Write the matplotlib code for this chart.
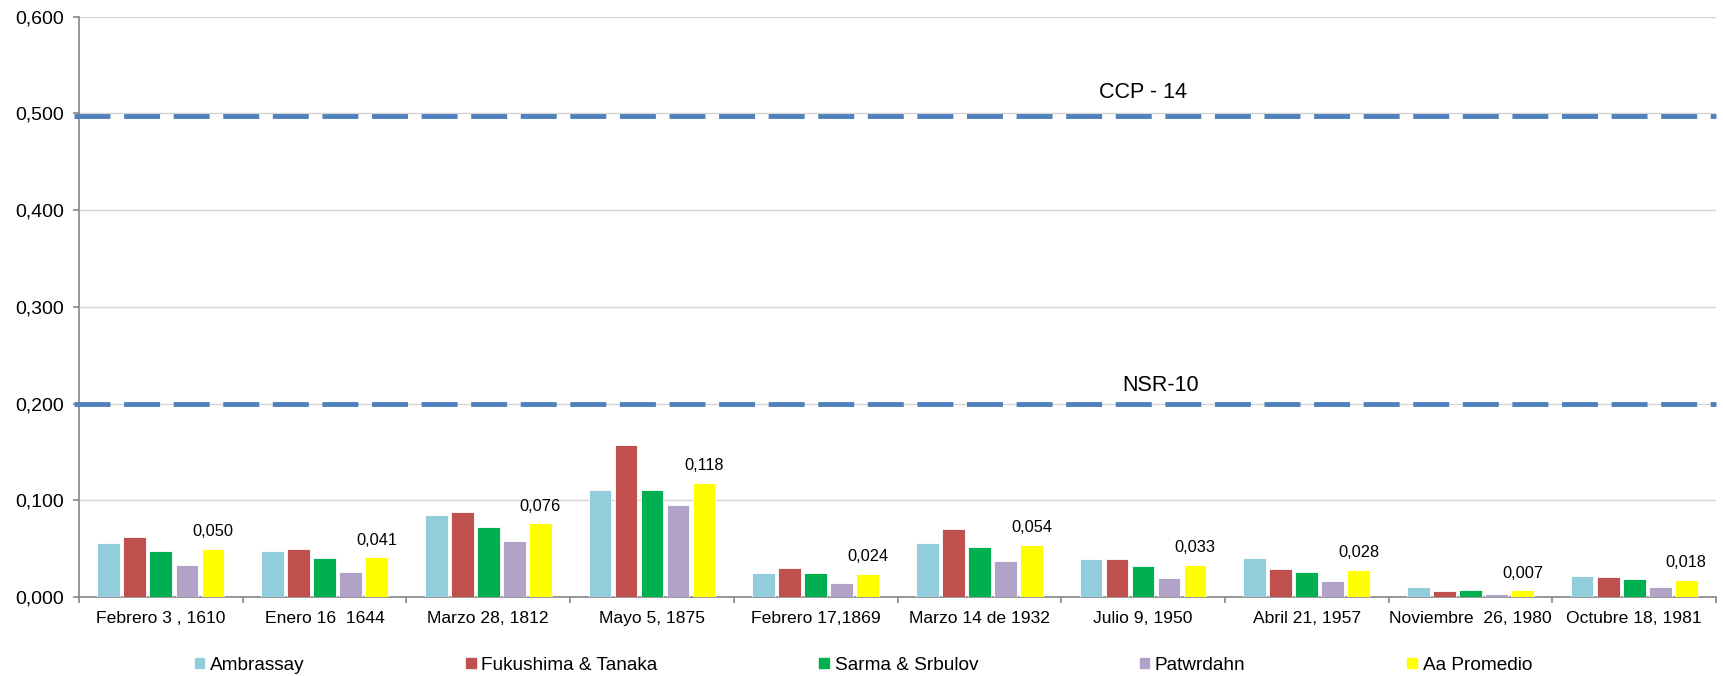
import matplotlib.pyplot as plt
import matplotlib.patches as mpatches
from matplotlib.ticker import FuncFormatter, MultipleLocator
import numpy as np

plt.rcParams['font.family'] = ['Liberation Sans', 'DejaVu Sans']

sismos = ['Febrero 3 , 1610', 'Enero 16  1644', 'Marzo 28, 1812', 'Mayo 5, 1875',
          'Febrero 17,1869', 'Marzo 14 de 1932', 'Julio 9, 1950', 'Abril 21, 1957',
          'Noviembre  26, 1980', 'Octubre 18, 1981']

ambrassay = [0.056, 0.048, 0.085, 0.111, 0.025, 0.056, 0.039, 0.040, 0.010, 0.022]
fukushima = [0.062, 0.050, 0.088, 0.157, 0.030, 0.070, 0.039, 0.029, 0.006, 0.021]
sarma = [0.048, 0.040, 0.072, 0.111, 0.025, 0.052, 0.032, 0.026, 0.007, 0.019]
patwardhan = [0.033, 0.026, 0.058, 0.095, 0.014, 0.037, 0.020, 0.017, 0.003, 0.010]
promedio = [0.050, 0.041, 0.076, 0.118, 0.024, 0.054, 0.033, 0.028, 0.007, 0.018]

series = [ambrassay, fukushima, sarma, patwardhan, promedio]
labels = ['Ambrassay', 'Fukushima & Tanaka', 'Sarma & Srbulov', 'Patwrdahn', 'Aa Promedio']
colors = ['#92CDDC', '#C0504D', '#00B050', '#B2A2C7', '#FFFF00']

# limites de norma
ccp_limite = 0.497
nsr_limite = 0.200

fig = plt.figure(figsize=(17.23, 6.76), dpi=100)
ax = fig.add_axes([0.04585, 0.11686, 0.95009, 0.85844])

x = np.arange(len(sismos))
paso = 0.159
ancho = 0.139
for i in range(len(series)):
    ax.bar(x + (i - 2) * paso, series[i], width=ancho, color=colors[i],
           edgecolor='white', linewidth=0.6, zorder=3)

for xi, v in zip(x, promedio):
    ax.annotate(f'{v:.3f}'.replace('.', ','), (xi + 2 * paso, v),
                xytext=(0, 7), textcoords='offset points',
                ha='center', va='bottom', fontsize=11.8)

dash = dict(color='#4F81BD', linewidth=3.5, dashes=(7.4, 2.8), zorder=4)
ax.axhline(ccp_limite, xmin=-0.003, clip_on=False, **dash)
ax.axhline(nsr_limite, xmin=-0.003, clip_on=False, **dash)
ax.text(6.0, 0.522, 'CCP - 14', ha='center', va='center', fontsize=15.5)
ax.text(6.11, 0.2185, 'NSR-10', ha='center', va='center', fontsize=15.5)

ax.set_xlim(-0.5, len(sismos) - 0.5)
ax.set_ylim(0, 0.6)
ax.yaxis.set_major_locator(MultipleLocator(0.1))
ax.yaxis.set_major_formatter(FuncFormatter(lambda v, p: f'{v:.3f}'.replace('.', ',')))
ax.grid(axis='y', color='#D4D4D4', linewidth=1, zorder=0)

ax.set_xticks(x)
ax.set_xticklabels(sismos, fontsize=12.6)
ax.set_xticks(np.arange(-0.5, len(sismos), 1), minor=True)
ax.tick_params(axis='x', which='major', length=0, pad=10)
ax.tick_params(axis='x', which='minor', length=4, color='#868686', width=1.2)
ax.tick_params(axis='y', length=4, color='#868686', width=1.2, pad=7, labelsize=14)

for s in ['top', 'right']:
    ax.spines[s].set_visible(False)
for s in ['left', 'bottom']:
    ax.spines[s].set_color('#868686')
    ax.spines[s].set_linewidth(1.2)

handles = [mpatches.Patch(color=c, label=l) for c, l in zip(colors, labels)]
fig.legend(handles=handles, loc='center', bbox_to_anchor=(0.501, 0.016), ncol=5,
           frameon=False, fontsize=13.7, handlelength=0.5, handleheight=0.5,
           handletextpad=0.3, columnspacing=8.5, borderpad=0)

fig.savefig('out.png', dpi=100)
